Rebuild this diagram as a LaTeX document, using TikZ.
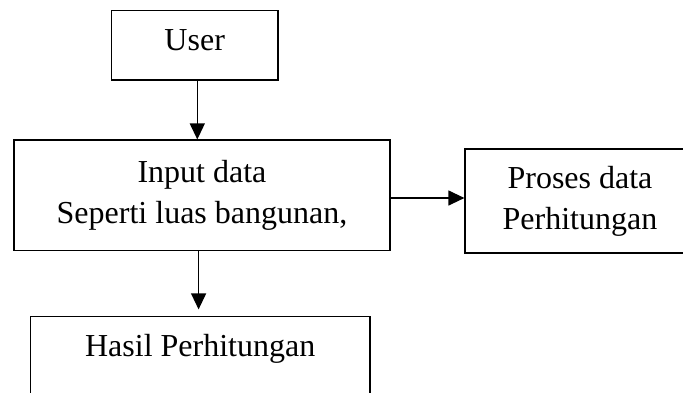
\documentclass[tikz,border=0pt]{standalone}
\usepackage{fontspec}
\setmainfont{Liberation Serif}
\usetikzlibrary{arrows.meta}
\begin{document}
\begin{tikzpicture}[x=1pt,y=-1pt,
  box/.style={draw,line width=1.2pt,rectangle,inner sep=0pt,align=center,
    font=\fontsize{32}{41}\selectfont},
  arr/.style={line width=1.2pt,-{Triangle[length=16pt,width=15pt]}}]
\useasboundingbox (0,0) rectangle (683,392);
\clip (0,0) rectangle (683,392);
\node[box,minimum width=166.5pt,minimum height=69.3pt,text height=21pt,text depth=10pt] (user) at (194.7,45.4) {User};
\node[box,minimum width=376pt,minimum height=110.7pt] (input) at (202,195.4) {Input data\\Seperti luas bangunan,};
\node[box,minimum width=230pt,minimum height=104pt] (proses) at (580,201) {Proses data\\Perhitungan};
\node[box,minimum width=339.5pt,minimum height=84pt,text height=22pt,text depth=26pt] (hasil) at (200.2,358.7) {Hasil Perhitungan};
\draw[arr] ([xshift=2.6pt]user.south) -- ([xshift=2.6pt]user.south |- input.north);
\draw[arr] ([yshift=-2.6pt]input.east) -- ([yshift=-2.6pt]input.east -| proses.west);
\draw[arr,shorten >=6.7pt] ([xshift=-3.4pt]input.south) -- ([xshift=-3.4pt]input.south |- hasil.north);
\end{tikzpicture}
\end{document}
